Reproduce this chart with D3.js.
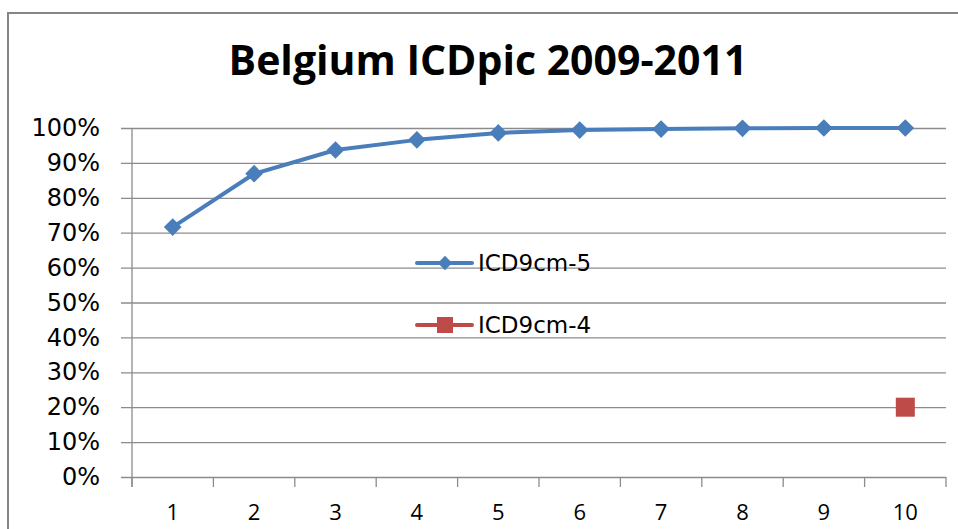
<!DOCTYPE html>
<html>
<head>
<meta charset="utf-8">
<script src="https://cdn.jsdelivr.net/npm/d3@7"></script>
<style>
  body { margin: 0; background: #fff; }
</style>
</head>
<body>
<div id="chart"></div>
<script>
// data
const categories = ["1", "2", "3", "4", "5", "6", "7", "8", "9", "10"];
const icd5 = [0.716, 0.869, 0.937, 0.966, 0.986, 0.994, 0.997, 0.999, 1.0, 1.0];
const icd4 = [{cat: "10", value: 0.20}];
const yTicks = [0, 0.1, 0.2, 0.3, 0.4, 0.5, 0.6, 0.7, 0.8, 0.9, 1.0];
const seriesNames = ["ICD9cm-5", "ICD9cm-4"];

const blue = "#4a7ebb", red = "#be4b48", grey = "#8c8c8c";

const width = 958, height = 529;
const svg = d3.select("#chart").append("svg")
    .attr("width", width)
    .attr("height", height);

// outer chart frame
svg.append("rect")
    .attr("x", 8).attr("y", 13)
    .attr("width", 980).attr("height", 560)
    .attr("fill", "none")
    .attr("stroke", "#868686")
    .attr("stroke-width", 2);

// title
svg.append("text")
    .attr("x", 488).attr("y", 75)
    .attr("text-anchor", "middle")
    .style("font-family", "'Open Sans', sans-serif")
    .style("font-weight", "bold")
    .style("font-size", "41px")
    .text("Belgium ICDpic 2009-2011");

const x = d3.scaleBand().domain(categories).range([132, 946]);
const y = d3.scaleLinear().domain([0, 1]).range([477, 128]);

// gridlines (they start left of the axis, like outside tick marks)
svg.append("g")
    .attr("transform", "translate(121,0)")
    .call(d3.axisRight(y).tickValues(yTicks).tickSize(825).tickFormat(""))
    .call(g => g.select(".domain").remove())
    .call(g => g.selectAll("line").attr("stroke", grey).attr("stroke-width", 1.3));

// y labels
svg.append("g")
    .attr("transform", "translate(121,0)")
    .call(d3.axisLeft(y).tickValues(yTicks).tickSize(0).tickPadding(21).tickFormat(d3.format(".0%")))
    .call(g => g.select(".domain").remove())
    .call(g => g.selectAll("text")
        .style("font-family", "'DejaVu Sans', sans-serif")
        .style("font-size", "24px")
        .attr("fill", "#000"));

// y axis line
svg.append("line")
    .attr("x1", 132).attr("x2", 132)
    .attr("y1", y(1)).attr("y2", y(0) + 10)
    .attr("stroke", grey).attr("stroke-width", 1.3);

// x tick marks on category boundaries
svg.append("g").selectAll("line")
    .data(categories.map(c => x(c)).concat([x.range()[1]]))
    .join("line")
    .attr("x1", d => d).attr("x2", d => d)
    .attr("y1", y(0)).attr("y2", y(0) + 10)
    .attr("stroke", grey).attr("stroke-width", 1.3);

// x labels
svg.append("g")
    .attr("transform", `translate(0,${y(0)})`)
    .call(d3.axisBottom(x).tickSize(0).tickPadding(27))
    .call(g => g.select(".domain").remove())
    .call(g => g.selectAll("text")
        .style("font-family", "'Open Sans', sans-serif")
        .style("font-size", "22px")
        .attr("fill", "#000"));

const cx = c => x(c) + x.bandwidth() / 2;
const diamond = d3.symbol().type(d3.symbolDiamond2);

// ICD9cm-5 line
svg.append("path")
    .datum(icd5)
    .attr("fill", "none")
    .attr("stroke", blue)
    .attr("stroke-width", 4)
    .attr("stroke-linejoin", "round")
    .attr("d", d3.line().x((d, i) => cx(categories[i])).y(d => y(d)));

svg.append("g").selectAll("path")
    .data(icd5)
    .join("path")
    .attr("transform", (d, i) => `translate(${cx(categories[i])},${y(d)})`)
    .attr("d", diamond.size(200))
    .attr("fill", blue);

// ICD9cm-4 single point
svg.append("g").selectAll("rect")
    .data(icd4)
    .join("rect")
    .attr("x", d => cx(d.cat) - 9.5)
    .attr("y", d => y(d.value) - 9.5)
    .attr("width", 19).attr("height", 19)
    .attr("fill", red);

// legend
const legend = svg.append("g").attr("transform", "translate(417,263)");
const rows = legend.selectAll("g")
    .data(seriesNames)
    .join("g")
    .attr("transform", (d, i) => `translate(0,${i * 62})`);

rows.append("line")
    .attr("x1", 0).attr("x2", 55)
    .attr("stroke", (d, i) => i === 0 ? blue : red)
    .attr("stroke-width", 4)
    .attr("stroke-linecap", "round");

rows.each(function (d, i) {
    const r = d3.select(this);
    if (i === 0) {
        r.append("path")
            .attr("transform", "translate(28,0)")
            .attr("d", diamond.size(130))
            .attr("fill", blue);
    } else {
        r.append("rect")
            .attr("x", 20).attr("y", -8)
            .attr("width", 16).attr("height", 16)
            .attr("fill", red);
    }
});

rows.append("text")
    .attr("x", 61)
    .attr("dy", "0.36em")
    .style("font-family", "'DejaVu Sans', sans-serif")
    .style("font-size", "23px")
    .text(d => d);
</script>
</body>
</html>
